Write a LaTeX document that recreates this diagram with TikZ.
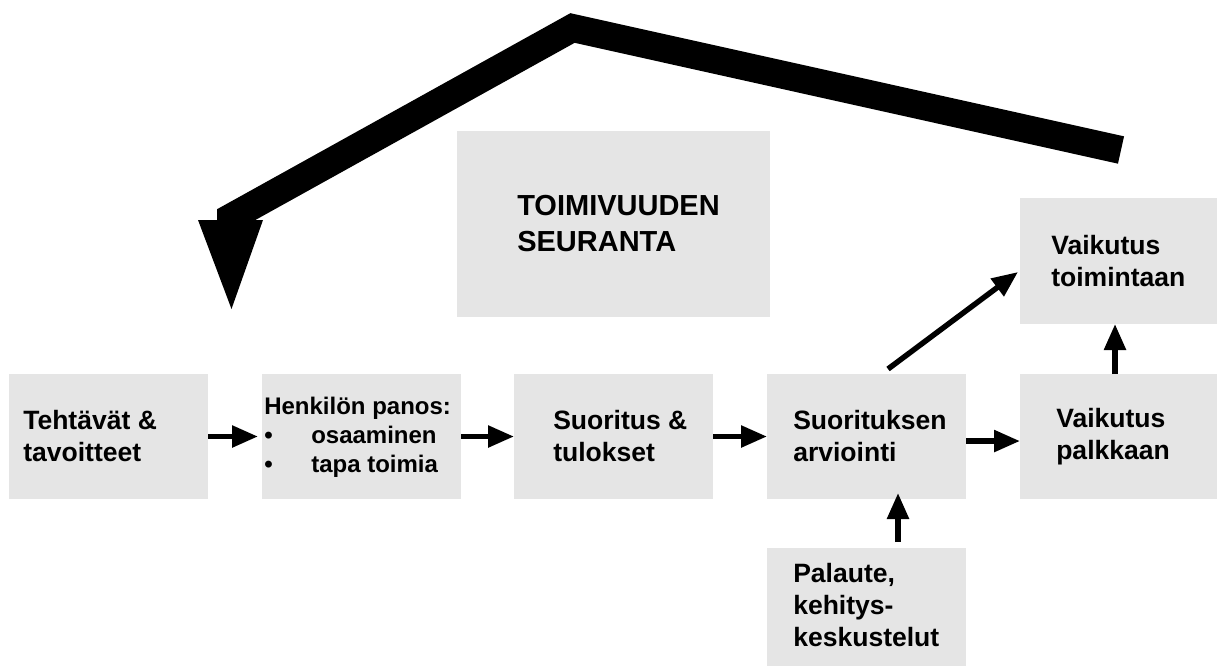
\documentclass[tikz,border=0pt]{standalone}
\usepackage{fontspec}
\setmainfont{Liberation Sans}
\usetikzlibrary{arrows.meta,fit}
\definecolor{boxgray}{RGB}{229,229,229}
\begin{document}
\begin{tikzpicture}[x=0.75pt,y=-0.75pt,
  box/.style={fill=boxgray, draw=none, inner sep=0pt, outer sep=0pt},
  txt/.style={font=\bfseries\fontsize{19.9pt}{24pt}\selectfont, align=left, inner sep=0pt, anchor=west},
  smalltxt/.style={font=\bfseries\fontsize{18pt}{21.75pt}\selectfont, align=left, inner sep=0pt, anchor=west},
  bigtxt/.style={font=\bfseries\fontsize{21.75pt}{27pt}\selectfont, align=left, inner sep=0pt, anchor=west},
  conn/.style={line width=4.1pt, -{Triangle[length=19.5pt,width=15.75pt]}},
  bigarrow/.style={line width=21pt, line join=miter, line cap=butt},
]
\useasboundingbox (0,0) rectangle (1219,668);

% boxes
\node[box, fit={(9,374) (208,499)}] (b1) {};
\node[box, fit={(262,374) (461,499)}] (b2) {};
\node[box, fit={(514,374) (713,499)}] (b3) {};
\node[box, fit={(767,374) (966,499)}] (b4) {};
\node[box, fit={(1020,374) (1217,499)}] (b5) {};
\node[box, fit={(1020,198) (1217,324)}] (b6) {};
\node[box, fit={(767,548) (966,666)}] (b7) {};
\node[box, fit={(457,131) (770,317)}] (bT) {};

% texts
\node[txt] (t1) at (23,436.5) {Tehtävät \&\\tavoitteet};
\node[smalltxt] (t2) at (264,437) {Henkilön panos:\\\makebox[35.25pt][l]{•}osaaminen\\\makebox[35.25pt][l]{•}tapa toimia};
\node[txt] (t3) at (553,436.5) {Suoritus \&\\tulokset};
\node[txt] (t4) at (793,436.5) {Suorituksen\\arviointi};
\node[txt] (t5) at (1056,436.5) {Vaikutus\\palkkaan};
\node[txt] (t6) at (1051,261) {Vaikutus\\toimintaan};
\node[txt] (t7) at (793,605) {Palaute,\\kehitys-\\keskustelut};
\node[bigtxt] (tT) at (517,224) {TOIMIVUUDEN\\SEURANTA};

% connectors
\draw[conn, shorten >=3pt] (b1.east) -- (b2.west);
\draw[conn] (b2.east) -- (b3.west);
\draw[conn] (b3.east) -- (b4.west);
\draw[conn] ([yshift=-3.4pt]b4.east) -- ([yshift=-3.4pt]b5.west);
\coordinate (a5x) at (1115,0);
\draw[conn] (a5x |- b5.north) -- (a5x |- b6.south);
\coordinate (a7x) at (898,0);
\draw[conn, shorten <=4.5pt, shorten >=-4.5pt] (a7x |- b7.north) -- (a7x |- b4.south);
\coordinate (a6s) at (888,369);
\coordinate (a6e) at (1018,272);
\draw[conn] (a6s) -- (a6e);

% big feedback arrow
\coordinate (g1) at (1121,150);
\coordinate (g2) at (572.5,28);
\coordinate (g3) at (231,217.5);
\coordinate (g4) at (231,222);
\draw[bigarrow] (g1) -- (g2) -- (g3) -- (g4);
\coordinate (h1) at (198,220);
\coordinate (h2) at (263,220);
\coordinate (h3) at (231.5,309);
\fill (h1) -- (h2) -- (h3) -- cycle;
\end{tikzpicture}
\end{document}
